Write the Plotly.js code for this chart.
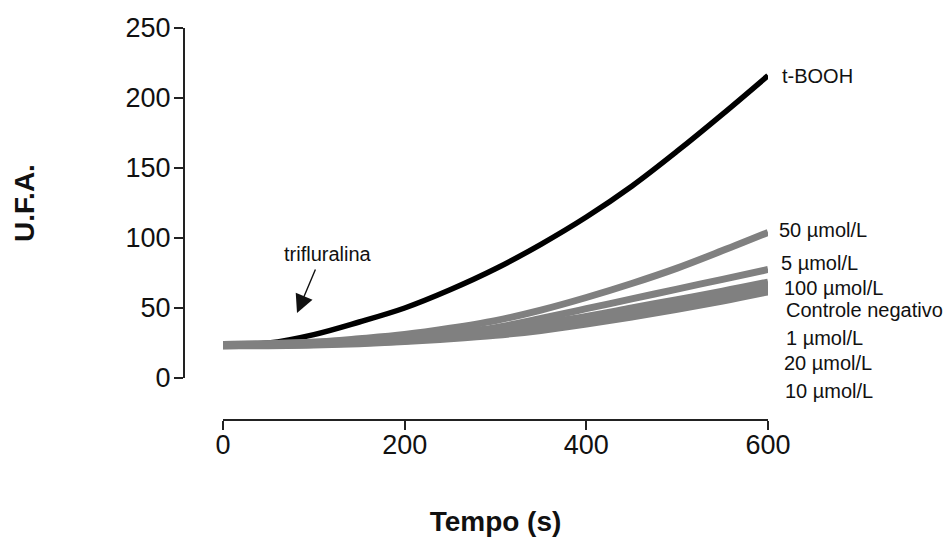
<!DOCTYPE html>
<html>
<head>
<meta charset="utf-8">
<script src="https://cdn.plot.ly/plotly-3.0.1.min.js"></script>
<style>html,body{margin:0;padding:0;background:#fff}#chart{width:951px;height:537px}</style>
</head>
<body>
<div id="chart"></div>
<script>
// Time (s)
const timeS = [0, 50, 100, 150, 200, 250, 300, 350, 400, 450, 500, 550, 600];
// Fluorescence (U.F.A.)
const tBOOH    = [24, 25, 31, 40, 50, 63, 78, 95.5, 115, 137, 162, 188.5, 216];
const umol50   = [24, 24.5, 25.5, 28, 31, 35.5, 41, 48.5, 57.5, 67.5, 78.5, 91, 104];
const umol5    = [24, 24.5, 25.5, 27, 29, 32, 36, 42.5, 49.5, 56.5, 63.5, 70.5, 77.5];
const umol100  = [23.5, 24, 25, 26.5, 28.5, 31, 34.5, 39, 44, 50, 56, 62, 68.5];
const controle = [23.5, 24, 24.5, 26, 28, 30.5, 33.5, 37.5, 42.5, 48, 54, 60, 66.5];
const umol1    = [23, 23.5, 24, 25.5, 27, 29.5, 32.5, 36.5, 41, 46.5, 52, 58, 64.5];
const umol20   = [23, 23.5, 24, 25, 26.5, 29, 31.5, 35.5, 40, 45, 50.5, 56.5, 63];
const umol10   = [23, 23, 23.5, 24.5, 26, 28, 30.5, 34, 38.5, 43.5, 49, 55, 61.5];

const seriesNames = ['t-BOOH', '50 µmol/L', '5 µmol/L', '100 µmol/L', 'Controle negativo', '1 µmol/L', '20 µmol/L', '10 µmol/L'];
const seriesValues = [tBOOH, umol50, umol5, umol100, controle, umol1, umol20, umol10];
const xTicks = [0, 200, 400, 600];
const yTicks = [0, 50, 100, 150, 200, 250];
const arrowText = 'trifluralina';

const FONT = 'Liberation Sans, Arial, sans-serif';

const traces = seriesValues.map((vals, i) => ({
  type: 'scatter',
  mode: 'lines',
  name: seriesNames[i],
  x: timeS,
  y: vals,
  line: {color: i === 0 ? '#000000' : '#808080', width: i === 0 ? 5.5 : 7, shape: 'spline'},
  hoverinfo: 'skip'
}));

// label placement (layout): [y value, x pixel shift, y pixel shift]
const labelPlace = [[216, 12, 0], [106, 9, 0], [82.5, 11, 0], [64.5, 14, 0], [48.5, 16, 0], [28.5, 16, 0], [10.5, 14, 0], [0, 15, -13]];
const annotations = seriesNames.map((name, i) => ({
  text: name, xref: 'x', yref: 'y', x: 600, y: labelPlace[i][0],
  xanchor: 'left', yanchor: 'middle', xshift: labelPlace[i][1], yshift: labelPlace[i][2], showarrow: false,
  font: {family: FONT, size: 20, color: '#111'}
}));
annotations.push({
  text: '', xref: 'x', yref: 'y', x: 81.5, y: 46.4, ax: 19, ay: -45,
  showarrow: true, arrowhead: 2, arrowsize: 2.6, arrowwidth: 1.4, arrowcolor: '#111'
});
annotations.push({
  text: arrowText, xref: 'x', yref: 'y', x: 116, y: 88.6, showarrow: false,
  xanchor: 'center', yanchor: 'middle',
  font: {family: FONT, size: 20, color: '#111'}
});

const axisCommon = {
  anchor: 'free', showline: true, linecolor: '#222', linewidth: 2,
  ticks: 'outside', ticklen: 9, tickwidth: 2, tickcolor: '#222',
  showgrid: false, zeroline: false, fixedrange: true,
  tickfont: {family: FONT, size: 27, color: '#111'}
};

const layout = {
  width: 951, height: 537,
  margin: {l: 50, r: 120, t: 20, b: 110},
  paper_bgcolor: '#fff', plot_bgcolor: '#fff',
  showlegend: false,
  xaxis: Object.assign({}, axisCommon, {
    domain: [0.22151, 0.91933], range: [0, 600], position: 0.0172,
    tickvals: xTicks, ticklabelstandoff: -8,
    title: {text: 'Tempo (s)', standoff: 56, font: {family: FONT, size: 28, color: '#111', weight: 'bold'}}
  }),
  yaxis: Object.assign({}, axisCommon, {
    domain: [0.12039, 0.98034], range: [0, 250], position: 0.17157,
    tickvals: yTicks, ticklabelstandoff: -2,
    title: {text: 'U.F.A.', standoff: 82, font: {family: FONT, size: 28, color: '#111', weight: 'bold'}}
  }),
  annotations: annotations
};

Plotly.newPlot('chart', traces, layout, {displayModeBar: false, staticPlot: true});
</script>
</body>
</html>
